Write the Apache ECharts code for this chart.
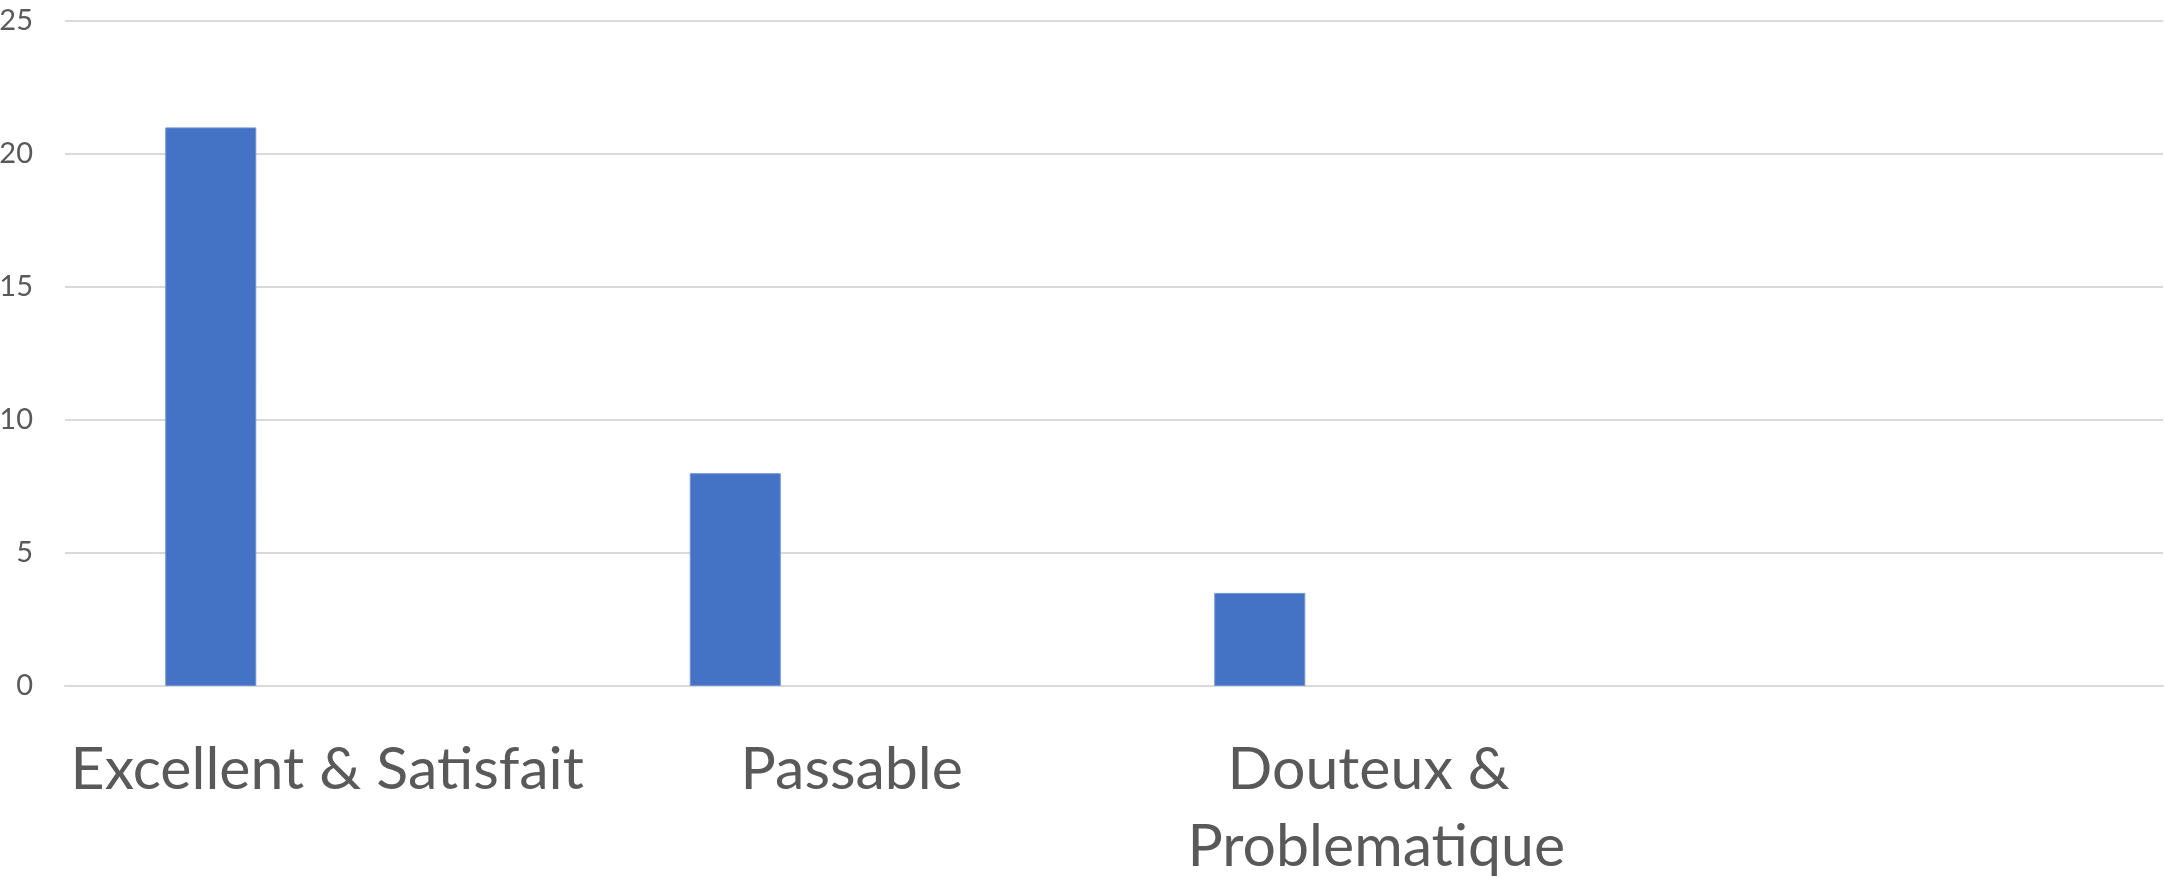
<!DOCTYPE html>
<html>
<head>
<meta charset="utf-8">
<style>
html,body{margin:0;padding:0;background:#fff;overflow:hidden;}
#chart{width:2165px;height:879px;}
</style>
<script src="https://cdn.jsdelivr.net/npm/echarts@6/dist/echarts.min.js"></script>
</head>
<body>
<div id="chart"></div>
<script>
const categories = ['Excellent & Satisfait', 'Passable', 'Douteux & Problematique', ''];
const seriesValues = [21, 8, 3.5, null];
const emptySeries = [null, null, null, null];
const yTicks = { min: 0, max: 25, interval: 5 };

const chart = echarts.init(document.getElementById('chart'), null, { renderer: 'canvas' });
chart.setOption({
  animation: false,
  backgroundColor: '#ffffff',
  grid: { left: 65, right: 2, top: 21, bottom: 193, containLabel: false, outerBoundsMode: 'none' },
  xAxis: {
    type: 'category',
    data: categories,
    axisLine: { show: true, lineStyle: { color: '#d9d9d9', width: 2 } },
    axisTick: { show: false },
    axisLabel: {
      color: '#595959',
      fontFamily: 'Lato',
      fontSize: 59,
      lineHeight: 77,
      margin: 45,
      width: 524,
      overflow: 'break',
      interval: 0
    }
  },
  yAxis: {
    type: 'value',
    min: yTicks.min,
    max: yTicks.max,
    interval: yTicks.interval,
    axisLine: { show: false },
    axisTick: { show: false },
    splitLine: { lineStyle: { color: '#d9d9d9', width: 2 } },
    axisLabel: {
      color: '#595959',
      fontFamily: 'Lato',
      fontSize: 29,
      margin: 32,
      align: 'right'
    }
  },
  series: [
    {
      type: 'bar',
      data: seriesValues,
      barWidth: 91,
      barGap: '156%',
      itemStyle: { color: '#4472C4', borderColor: '#6f93d6', borderWidth: 1 }
    },
    {
      type: 'bar',
      data: emptySeries,
      barWidth: 91,
      itemStyle: { color: '#ED7D31' }
    }
  ]
});
</script>
</body>
</html>
